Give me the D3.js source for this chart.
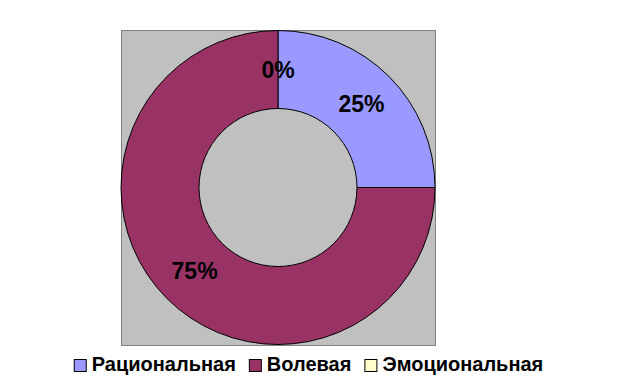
<!DOCTYPE html>
<html>
<head>
<meta charset="utf-8">
<script src="https://cdn.jsdelivr.net/npm/d3@7"></script>
<style>
  body { margin: 0; background: #fff; }
  svg { display: block; }
</style>
</head>
<body>
<div id="chart"></div>
<script>
const categories = ['Рациональная', 'Волевая', 'Эмоциональная'];
const values = [25, 75, 0];
const colors = ['#9999FF', '#993366', '#FFFFCC'];

const width = 617;
const height = 389;
const plot = { x: 121, y: 30, w: 314, h: 315 };
const cx = plot.x + plot.w / 2;
const cy = plot.y + plot.h / 2;
const outerR = 157;
const innerR = 79;

const svg = d3.select('#chart').append('svg')
  .attr('width', width)
  .attr('height', height);

svg.append('rect')
  .attr('x', plot.x + 0.5)
  .attr('y', plot.y + 0.5)
  .attr('width', plot.w)
  .attr('height', plot.h)
  .style('fill', '#C0C0C0')
  .style('stroke', '#808080');

const data = categories.map((c, i) => ({ name: c, value: values[i], color: colors[i] }));
const total = d3.sum(values);

const pie = d3.pie()
  .sort(null)
  .value(d => d.value);

const arc = d3.arc()
  .innerRadius(innerR)
  .outerRadius(outerR);

const labelArc = d3.arc()
  .innerRadius((innerR + outerR) / 2)
  .outerRadius((innerR + outerR) / 2);

const g = svg.append('g')
  .attr('transform', `translate(${cx},${cy})`);

const arcs = pie(data);

g.selectAll('path.slice')
  .data(arcs.filter(d => d.data.value > 0))
  .enter().append('path')
  .attr('class', 'slice')
  .attr('d', arc)
  .style('fill', d => d.data.color)
  .style('stroke', '#000')
  .style('stroke-width', 1);

g.selectAll('text.pct')
  .data(arcs)
  .enter().append('text')
  .attr('class', 'pct')
  .attr('transform', d => `translate(${labelArc.centroid(d)})`)
  .attr('dy', '0.36em')
  .style('text-anchor', 'middle')
  .style('font-family', '"Liberation Sans", Arial, sans-serif')
  .style('font-weight', 'bold')
  .style('font-size', '23px')
  .style('fill', '#000')
  .text(d => `${Math.round(d.data.value / total * 100)}%`);

// legend
const legend = svg.append('g');
const legendFont = 20;
const box = 12;
const gap = 6;
const spacing = 13;
let lx = 0;
data.forEach(d => {
  const item = legend.append('g').attr('transform', `translate(${lx},0)`);
  item.append('rect')
    .attr('x', 0.5)
    .attr('y', -box + 0.5)
    .attr('width', box)
    .attr('height', box)
    .style('fill', d.color)
    .style('stroke', '#000');
  const t = item.append('text')
    .attr('x', box + gap)
    .attr('y', 0)
    .style('font-family', '"Liberation Sans", Arial, sans-serif')
    .style('font-weight', 'bold')
    .style('font-size', `${legendFont}px`)
    .text(d.name);
  lx += box + gap + t.node().getComputedTextLength() + spacing;
});
lx -= spacing;
legend.attr('transform', `translate(${(width - lx) / 2},${371})`);
</script>
</body>
</html>
